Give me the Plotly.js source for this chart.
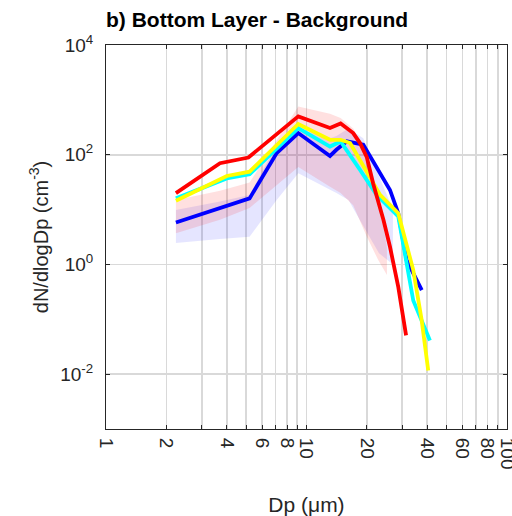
<!DOCTYPE html>
<html>
<head>
<meta charset="utf-8">
<script src="https://cdn.plot.ly/plotly-3.0.1.min.js"></script>
<style>
  html, body { margin: 0; padding: 0; background: #fff; }
  #chart { width: 512px; height: 516px; }
</style>
</head>
<body>
<div id="chart"></div>
<script>
// ---- Data ----
const redX    = [2.23, 3.7, 5.13, 9.1, 13.1, 14.8, 17.1, 18.5, 20, 21.5, 24.2, 26.1, 28.7, 31.4];
const redY    = [20, 70, 89, 500, 306, 372, 248, 163, 90, 30, 6.5, 2.1, 0.39, 0.051];

const yellowX = [2.23, 4.0, 5.2, 9.1, 13.1, 14.8, 16.5, 23.3, 28.7, 34.1, 37.5, 40.5];
const yellowY = [14.5, 41, 49, 363, 187, 187, 163, 18.5, 8.6, 0.79, 0.1, 0.0117];

const cyanX   = [2.23, 4.0, 5.2, 9.1, 13.1, 14.8, 18.5, 22.4, 28.7, 34.1, 41.3];
const cyanY   = [16, 37, 44, 306, 141, 174, 53, 18.5, 7.5, 0.22, 0.041];

const blueX   = [2.23, 5.2, 7.1, 9.1, 13.1, 14.1, 15.9, 19.2, 26.1, 28.7, 31.6, 37.6];
const blueY   = [5.8, 16, 107, 248, 95, 123, 175, 152, 22.8, 8.6, 1.2, 0.34];

const redBandX  = [2.23, 3.7, 5.2, 9.1, 13.1, 14.8, 17.1, 20, 22.8, 25.2];
const redBandHi = [15, 22, 31, 760, 560, 466, 300, 100, 20, 2.0];
const redBandLo = [3.7, 6.5, 10.7, 60, 26, 20, 12, 3.2, 1.2, 0.64];

const blueBandX  = [2.23, 3.7, 5.2, 7.1, 9.1, 13.1, 14.1, 16.2, 19.2, 23, 27];
const blueBandHi = [9.8, 14, 18.5, 150, 300, 200, 220, 300, 200, 40, 10];
const blueBandLo = [2.45, 2.9, 3.2, 15, 46, 23, 20, 15, 5, 1.6, 1.0];

const xTickVals  = [1, 2, 4, 6, 8, 10, 20, 40, 60, 80, 100];
const xTickText  = ['1', '2', '4', '6', '8', '10', '20', '40', '60', '80', '100'];
const xMinorVals = [3, 5, 7, 9, 30, 50, 70, 90];
const yTickVals  = [1e-2, 1, 1e2, 1e4];
const yTickText  = ['10<sup>-2</sup>', '10<sup>0</sup>', '10<sup>2</sup>', '10<sup>4</sup>'];

function band(x, hi, lo, color) {
  return {
    x: x.concat(x.slice().reverse()),
    y: hi.concat(lo.slice().reverse()),
    type: 'scatter', mode: 'lines', fill: 'toself',
    fillcolor: color, line: {width: 0}, hoverinfo: 'skip', showlegend: false
  };
}
function line(x, y, color) {
  return {x: x, y: y, type: 'scatter', mode: 'lines',
          line: {color: color, width: 3.8}, showlegend: false};
}

const traces = [
  band(blueBandX, blueBandHi, blueBandLo, 'rgba(0,0,255,0.10)'),
  band(redBandX, redBandHi, redBandLo, 'rgba(255,0,0,0.12)'),
  line(blueX, blueY, '#0000ff'),
  line(cyanX, cyanY, '#00ffff'),
  line(yellowX, yellowY, '#ffff00'),
  line(redX, redY, '#ff0000')
];

const fontFam = 'Liberation Sans, Arial, sans-serif';
const gridCol = '#d9d9d9';
const layout = {
  width: 512, height: 516,
  margin: {l: 106, r: 5, t: 45, b: 87},
  paper_bgcolor: '#fff', plot_bgcolor: '#fff',
  font: {family: fontFam, color: '#262626', size: 19},
  title: {
    text: '<b>b) Bottom Layer - Background</b>',
    font: {family: fontFam, size: 21, color: '#000'},
    xref: 'paper', x: 0, xanchor: 'left',
    yref: 'container', y: 0.962, yanchor: 'middle'
  },
  xaxis: {
    type: 'log', range: [-0.0005, 2.0005],
    tickmode: 'array', tickvals: xTickVals, ticktext: xTickText,
    tickangle: 90, tickfont: {size: 19, color: '#262626'},
    ticklabeloverflow: 'allow',
    ticks: 'inside', ticklen: 4, tickcolor: '#262626',
    minor: {tickmode: 'array', tickvals: xMinorVals, ticks: 'inside', ticklen: 4,
            tickcolor: '#262626', showgrid: true, gridcolor: gridCol, gridwidth: 1.8},
    showline: true, linecolor: '#262626', linewidth: 1, mirror: 'allticks',
    showgrid: true, gridcolor: gridCol, gridwidth: 1.8,
    zeroline: false, ticklabelstandoff: 4,
    title: {text: 'Dp (\u03bcm)', font: {size: 21, color: '#262626'}, standoff: 36}
  },
  yaxis: {
    type: 'log', range: [-3, 4],
    tickmode: 'array', tickvals: yTickVals, ticktext: yTickText,
    tickfont: {size: 19, color: '#262626'},
    ticks: 'inside', ticklen: 4, tickcolor: '#262626',
    showline: true, linecolor: '#262626', linewidth: 1, mirror: 'allticks',
    showgrid: true, gridcolor: gridCol, gridwidth: 1.8,
    zeroline: false, ticklabelstandoff: 8,
    title: {text: 'dN/dlogDp (cm<sup>-3</sup>)', font: {size: 20, color: '#262626'}, standoff: 6}
  }
};

Plotly.newPlot('chart', traces, layout, {staticPlot: true, displayModeBar: false});
</script>
</body>
</html>
